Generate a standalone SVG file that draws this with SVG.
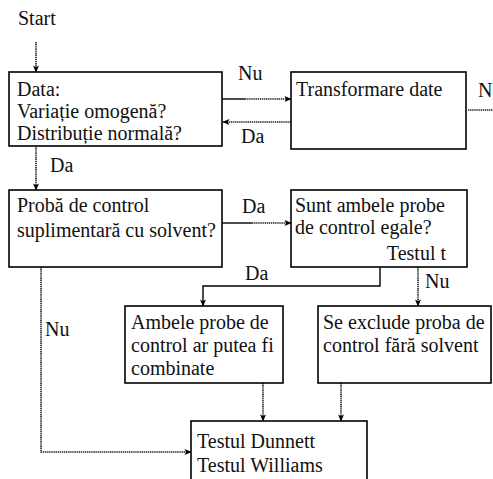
<svg xmlns="http://www.w3.org/2000/svg" width="493" height="479" viewBox="0 0 493 479">
  <style>
    .box { fill: #ffffff; stroke: #000000; stroke-width: 1.6; }
    .t { font-family: "Liberation Serif", "Times New Roman", serif; font-size: 20px; fill: #111111; }
    .solid { fill: none; stroke: #000000; stroke-width: 1.4; }
    .dot { fill: none; stroke: #222222; stroke-width: 1.6; stroke-dasharray: 1.4 0.7; }
  </style>
  <defs>
    <marker id="arr" viewBox="0 0 8 8" refX="7.5" refY="4" markerWidth="7" markerHeight="7" orient="auto" markerUnits="userSpaceOnUse">
      <path d="M0,0.5 L8,4 L0,7.5 L2,4 Z" fill="#000000"/>
    </marker>
  </defs>
  <rect width="493" height="479" fill="#ffffff"/>

  <text class="t" x="18" y="25">Start</text>

  <g id="connectors">
    <!-- start into data check -->
    <line class="dot" x1="36" y1="42" x2="36" y2="72" marker-end="url(#arr)"/>
    <!-- data -> transform (Nu) -->
    <line class="solid" x1="222" y1="99" x2="245" y2="99"/>
    <line class="dot" x1="245" y1="99" x2="291" y2="99" marker-end="url(#arr)"/>
    <text class="t" x="238" y="80">Nu</text>
    <!-- transform -> data (Da) -->
    <line class="dot" x1="291" y1="122" x2="223" y2="122" marker-end="url(#arr)"/>
    <text class="t" x="241" y="143">Da</text>
    <!-- transform -> onward (N...) -->
    <line class="dot" x1="468" y1="110" x2="493" y2="110"/>
    <text class="t" x="478" y="97">N</text>
    <!-- data -> control sample (Da) -->
    <line class="dot" x1="36" y1="146" x2="36" y2="190" marker-end="url(#arr)"/>
    <text class="t" x="50" y="172">Da</text>
    <!-- control sample -> equal samples (Da) -->
    <line class="solid" x1="222" y1="223" x2="252" y2="223"/>
    <line class="dot" x1="252" y1="223" x2="291" y2="223" marker-end="url(#arr)"/>
    <text class="t" x="242" y="213">Da</text>
    <!-- control sample -> Dunnett/Williams (Nu) -->
    <polyline class="dot" points="41,267 41,452 191,452" marker-end="url(#arr)"/>
    <text class="t" x="45" y="336">Nu</text>
    <!-- equal samples -> combined (Da) -->
    <polyline class="solid" points="380,267 380,286 203,286 203,306" marker-end="url(#arr)"/>
    <text class="t" x="245" y="280">Da</text>
    <!-- equal samples -> exclude (Nu) -->
    <line class="dot" x1="418" y1="267" x2="418" y2="306" marker-end="url(#arr)"/>
    <text class="t" x="425" y="288">Nu</text>
    <!-- combined / exclude -> Dunnett/Williams -->
    <line class="dot" x1="263" y1="383" x2="263" y2="421" marker-end="url(#arr)"/>
    <line class="dot" x1="341" y1="383" x2="341" y2="421" marker-end="url(#arr)"/>
  </g>

  <g id="data-check">
    <rect class="box" x="9" y="72" width="213" height="74"/>
    <text class="t" x="17" y="96">Data:</text>
    <text class="t" x="17" y="118">Variație omogenă?</text>
    <text class="t" x="17" y="140">Distribuție normală?</text>
  </g>

  <g id="transform">
    <rect class="box" x="291" y="72" width="175" height="77"/>
    <text class="t" x="296" y="96">Transformare date</text>
  </g>

  <g id="control-sample">
    <rect class="box" x="9" y="190" width="213" height="77"/>
    <text class="t" x="17" y="212">Probă de control</text>
    <text class="t" x="17" y="237">suplimentară cu solvent?</text>
  </g>

  <g id="equal-samples">
    <rect class="box" x="291" y="190" width="176" height="77"/>
    <text class="t" x="295" y="212">Sunt ambele probe</text>
    <text class="t" x="295" y="234">de control egale?</text>
    <text class="t" x="446" y="260" text-anchor="end">Testul t</text>
  </g>

  <g id="combined">
    <rect class="box" x="125" y="306" width="158" height="77"/>
    <text class="t" x="131" y="329">Ambele probe de</text>
    <text class="t" x="131" y="352">control ar putea fi</text>
    <text class="t" x="131" y="375">combinate</text>
  </g>

  <g id="exclude">
    <rect class="box" x="318" y="306" width="173" height="77"/>
    <text class="t" x="323" y="329">Se exclude proba de</text>
    <text class="t" x="323" y="352">control fără solvent</text>
  </g>

  <g id="dunnett-williams">
    <rect class="box" x="191" y="421" width="176" height="70"/>
    <text class="t" x="197" y="448">Testul Dunnett</text>
    <text class="t" x="197" y="472">Testul Williams</text>
  </g>
</svg>
